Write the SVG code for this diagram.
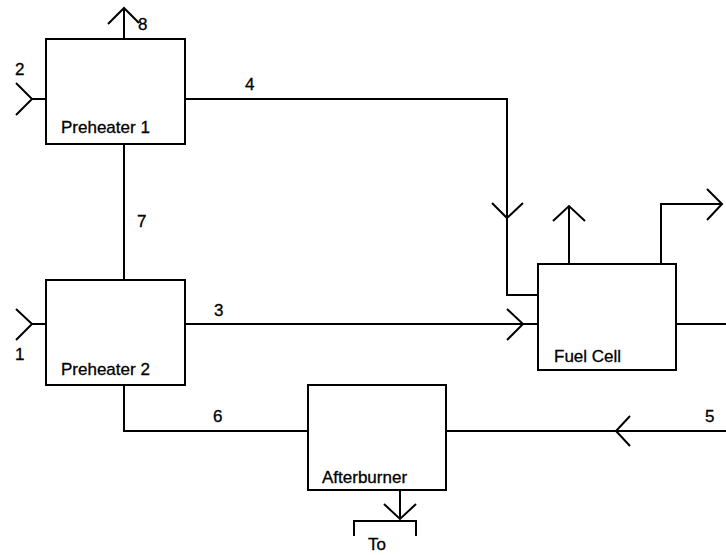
<svg xmlns="http://www.w3.org/2000/svg" width="726" height="555" viewBox="0 0 726 555">
<style>
.box{fill:#fff;stroke:#000;stroke-width:2}
.ln{fill:none;stroke:#000;stroke-width:2}
.lbl{font-family:"Liberation Sans",Arial,sans-serif;font-size:17px;fill:#000;stroke:#000;stroke-width:0.3}
</style>
<rect width="726" height="555" fill="#fff"/>
<g id="connectors">
  <path class="ln" d="M124,39 V8 M108,24 L124,8 L139,23"/>
  <path class="ln" d="M32,99 H46 M16,83 L32,99 L16,115"/>
  <path class="ln" d="M185,99 H507 V295 H538 M492,203 L507,218 L523,203"/>
  <path class="ln" d="M124,144 V280"/>
  <path class="ln" d="M32,324 H46 M16,309 L32,324 L16,340"/>
  <path class="ln" d="M185,324 H538 M507,309 L523,324 L507,340"/>
  <path class="ln" d="M569,264 V206 M553,221 L569,206 L585,221"/>
  <path class="ln" d="M661,264 V204 H722 M707,189 L722,204 L707,220"/>
  <path class="ln" d="M676,324 H726"/>
  <path class="ln" d="M726,431 H446 M630,416 L616,431 L630,446"/>
  <path class="ln" d="M124,385 V431 H308"/>
  <path class="ln" d="M400,490 V519 M384,504 L400,519 L416,504"/>
  <path class="ln" d="M354,536 V521 H416 V536"/>
</g>
<g id="preheater1">
  <rect class="box" x="46" y="39" width="139" height="105"/>
  <text class="lbl" x="61" y="133">Preheater 1</text>
</g>
<g id="preheater2">
  <rect class="box" x="46" y="280" width="139" height="105"/>
  <text class="lbl" x="61" y="375">Preheater 2</text>
</g>
<g id="fuelcell">
  <rect class="box" x="538" y="264" width="138" height="106"/>
  <text class="lbl" x="554" y="362">Fuel Cell</text>
</g>
<g id="afterburner">
  <rect class="box" x="308" y="385" width="138" height="105"/>
  <text class="lbl" x="322" y="483">Afterburner</text>
</g>
<g id="labels">
  <text class="lbl" x="138" y="30">8</text>
  <text class="lbl" x="15" y="75">2</text>
  <text class="lbl" x="245" y="90">4</text>
  <text class="lbl" x="137" y="227">7</text>
  <text class="lbl" x="214" y="316">3</text>
  <text class="lbl" x="15" y="360">1</text>
  <text class="lbl" x="213" y="422">6</text>
  <text class="lbl" x="705" y="422">5</text>
  <text class="lbl" x="368" y="550">To</text>
</g>
</svg>
